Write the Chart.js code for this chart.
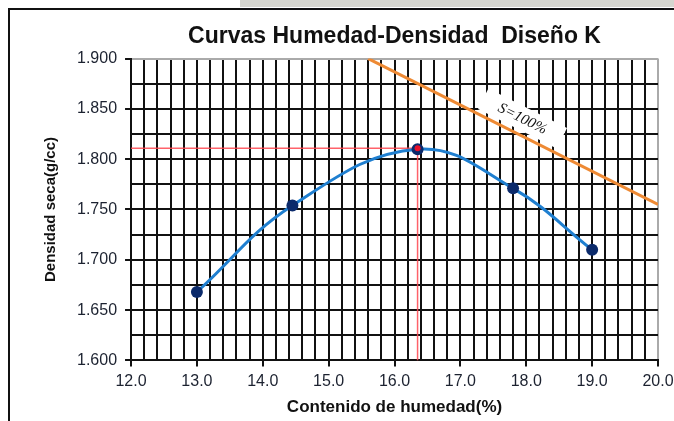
<!DOCTYPE html>
<html>
<head>
<meta charset="utf-8">
<script src="https://cdn.jsdelivr.net/npm/chart.js@4.4.1/dist/chart.umd.min.js"></script>
<style>
  html, body { margin: 0; padding: 0; background: #fff; }
  #caja { width: 674px; height: 421px; }
</style>
</head>
<body>
<div id="caja"><canvas id="myChart"></canvas></div>
<script>
// Puntos del ensayo (humedad %, densidad seca g/cc)
const humedad = [13.0, 14.45, 16.35, 17.8, 19.0];
const densidad = [1.668, 1.754, 1.810, 1.771, 1.710];

// Curva de saturación S=100%
const satHumedad = [15.6, 20.0];
const satDensidad = [1.900, 1.755];

// Óptimo (líneas rojas)
const optHumedad = [12.0, 16.35, 16.35];
const optDensidad = [1.811, 1.811, 1.600];

// Etiquetas de los ejes
const xTicks = [12, 13, 14, 15, 16, 17, 18, 19, 20];
const xLabels = ['12.0', '13.0', '14.0', '15.0', '16.0', '17.0', '18.0', '19.0', '20.0'];
const yTicks = [1.6, 1.65, 1.7, 1.75, 1.8, 1.85, 1.9];
const yLabels = ['1.600', '1.650', '1.700', '1.750', '1.800', '1.850', '1.900'];

const toXY = (xs, ys) => xs.map((v, i) => ({ x: v, y: ys[i] }));
const idx = (arr, v) => arr.findIndex(m => Math.abs(m - v) < 1e-6);

// marco y franja gris de la captura original
const marco = {
  id: 'marco',
  beforeDraw(chart) {
    const ctx = chart.ctx;
    ctx.save();
    ctx.fillStyle = '#fff';
    ctx.fillRect(0, 0, chart.width, chart.height);
    ctx.fillStyle = '#d6d6cf';
    ctx.fillRect(240, 0, chart.width - 240, 7);
    ctx.strokeStyle = '#111';
    ctx.lineWidth = 2;
    ctx.beginPath();
    ctx.moveTo(9, chart.height);
    ctx.lineTo(9, 9);
    ctx.lineTo(chart.width, 9);
    ctx.stroke();
    ctx.restore();
  }
};

// texto "S=100%" girado sobre la curva de saturación
const etiquetaSat = { texto: 'S=100%', x: 17.94, y: 1.84 };
const rotuloSat = {
  id: 'rotuloSat',
  beforeDatasetsDraw(chart) {
    const { ctx, scales: { x, y } } = chart;
    const ang = Math.atan2(
      y.getPixelForValue(satDensidad[1]) - y.getPixelForValue(satDensidad[0]),
      x.getPixelForValue(satHumedad[1]) - x.getPixelForValue(satHumedad[0])
    );
    ctx.save();
    ctx.translate(x.getPixelForValue(etiquetaSat.x), y.getPixelForValue(etiquetaSat.y));
    ctx.rotate(ang);
    ctx.fillStyle = '#fff';
    ctx.fillRect(-44, -12, 88, 23);
    ctx.fillStyle = '#111';
    ctx.font = 'italic 15px "Liberation Serif"';
    ctx.textAlign = 'center';
    ctx.textBaseline = 'middle';
    ctx.fillText(etiquetaSat.texto, 0, 0);
    ctx.restore();
  }
};

const ctx = document.getElementById('myChart');

new Chart(ctx, {
  type: 'scatter',
  data: {
    datasets: [
      {
        label: 'Óptimo',
        data: [{ x: optHumedad[1], y: optDensidad[1] }],
        pointRadius: 3,
        pointBackgroundColor: '#e8102a',
        pointBorderWidth: 0,
        order: 0
      },
      {
        label: 'Ensayo',
        data: toXY(humedad, densidad),
        showLine: true,
        tension: 0.4,
        borderColor: '#1f7fd0',
        borderWidth: 3,
        pointRadius: 6,
        pointBackgroundColor: '#0b2a6b',
        pointBorderColor: '#0b2a6b',
        pointBorderWidth: 0,
        order: 1
      },
      {
        label: 'Líneas óptimo',
        data: toXY(optHumedad, optDensidad),
        showLine: true,
        borderColor: 'rgba(255, 70, 80, 0.85)',
        borderWidth: 1.5,
        pointRadius: 0,
        order: 2
      },
      {
        label: 'S=100%',
        data: toXY(satHumedad, satDensidad),
        showLine: true,
        borderColor: '#ee8a34',
        borderWidth: 3,
        pointRadius: 0,
        order: 3
      }
    ]
  },
  options: {
    responsive: true,
    maintainAspectRatio: false,
    animation: false,
    layout: { padding: { left: 42, right: 16, top: 14, bottom: 3 } },
    plugins: {
      legend: { display: false },
      tooltip: { enabled: false },
      title: {
        display: true,
        fullSize: false,
        text: 'Curvas Humedad-Densidad  Diseño K',
        color: '#111',
        font: { family: '"Liberation Sans", Arial', size: 23, weight: 'bold' },
        padding: { top: 9, bottom: 8 }
      }
    },
    scales: {
      x: {
        type: 'linear',
        min: 12,
        max: 20,
        border: { display: true, color: '#111', width: 2 },
        grid: {
          color: c => (idx([20], c.tick.value) >= 0 ? '#aaa' : '#111'),
          lineWidth: 2,
          tickLength: 6,
          tickColor: c => (idx(xTicks, c.tick.value) >= 0 ? '#111' : 'rgba(0,0,0,0)')
        },
        afterFit: s => { s.paddingRight = 0; },
        ticks: {
          stepSize: 0.2,
          autoSkip: false,
          maxRotation: 0,
          padding: 6,
          color: '#1c2230',
          font: { family: '"Liberation Sans", Arial', size: 16 },
          callback: v => { const i = idx(xTicks, v); return i >= 0 ? xLabels[i] : ''; }
        },
        title: {
          display: true,
          text: 'Contenido de humedad(%)',
          color: '#111',
          font: { family: '"Liberation Sans", Arial', size: 17, weight: 'bold' },
          padding: { top: 0, bottom: 0 }
        }
      },
      y: {
        type: 'linear',
        min: 1.6,
        max: 1.9,
        border: { display: true, color: '#111', width: 2 },
        grid: {
          color: c => (idx([1.9], c.tick.value) >= 0 ? '#aaa' : '#111'),
          lineWidth: 2,
          tickLength: 6,
          tickColor: c => (idx(yTicks, c.tick.value) >= 0 ? '#111' : 'rgba(0,0,0,0)')
        },
        ticks: {
          stepSize: 0.025,
          autoSkip: false,
          padding: 8,
          color: '#1c2230',
          font: { family: '"Liberation Sans", Arial', size: 16 },
          callback: v => { const i = idx(yTicks, v); return i >= 0 ? yLabels[i] : ''; }
        },
        title: {
          display: true,
          text: 'Densidad seca(g/cc)',
          color: '#111',
          font: { family: '"Liberation Sans", Arial', size: 15, weight: 'bold' },
          padding: { top: 0, bottom: 9 }
        }
      }
    }
  },
  plugins: [marco, rotuloSat]
});
</script>
</body>
</html>
